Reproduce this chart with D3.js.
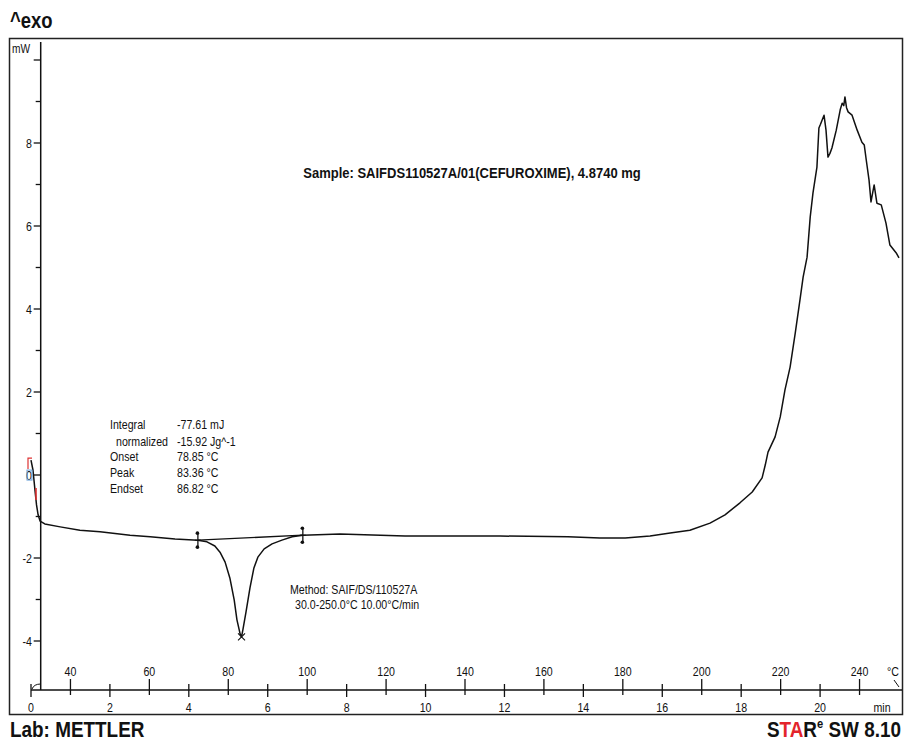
<!DOCTYPE html>
<html>
<head>
<meta charset="utf-8">
<script src="https://cdn.jsdelivr.net/npm/d3@7"></script>
<style>
  html, body { margin: 0; padding: 0; background: #fff; }
  svg { display: block; }
</style>
</head>
<body>
<svg id="chart" width="904" height="742"></svg>
<script>
// ---------------- DATA ----------------
const tempC = [30.0, 30.5, 31.0, 31.4, 31.8, 32.3, 33.5, 37.4, 42.4, 47.5, 55.1, 60.2, 66.5, 72.3,
  74.6, 76.6, 77.9, 79.2, 80.4, 81.5, 82.2, 83.0, 83.36, 83.7, 84.5, 85.5, 86.5, 87.5, 89.1, 91.1,
  93.6, 96.2, 98.9, 108.3, 124.8, 148.9, 166.1, 174.2, 180.6, 186.9, 192.0, 197.0, 202.1, 205.9,
  209.7, 212.8, 215.3, 216.1, 216.8, 218.6, 219.9, 221.1, 222.4, 223.7, 224.9, 225.7, 226.7, 227.5,
  228.2, 229.2, 229.7, 230.1, 230.5, 231.0, 231.5, 232.0, 232.5, 233.0, 234.1, 235.1, 235.6, 236.0, 236.3,
  236.7, 237.1, 238.1, 239.4, 240.6, 241.2, 241.7, 242.4, 242.9, 243.7, 244.4, 245.5, 246.7, 247.7, 249.3, 250.0];
const heatFlow = [0.36, 0.12, -0.36, -0.72, -0.96, -1.11, -1.18, -1.25, -1.33, -1.37, -1.45, -1.49, -1.54, -1.57,
  -1.61, -1.71, -1.86, -2.10, -2.48, -3.01, -3.49, -3.83, -3.90, -3.73, -3.30, -2.72, -2.24, -1.98, -1.78, -1.66,
  -1.57, -1.49, -1.45, -1.42, -1.47, -1.47, -1.49, -1.52, -1.52, -1.47, -1.40, -1.33, -1.16, -0.96,
  -0.67, -0.41, -0.07, 0.24, 0.55, 0.92, 1.40, 2.05, 2.60, 3.42, 4.22, 4.77, 5.25, 6.22,
  6.80, 7.42, 8.36, 8.45, 8.55, 8.67, 8.31, 7.66, 7.75, 7.88, 8.31, 8.80, 8.96, 8.90, 9.11,
  8.85, 8.75, 8.67, 8.31, 8.02, 7.95, 7.59, 7.11, 6.58, 6.99, 6.55, 6.51, 6.07, 5.54, 5.35, 5.23];

// integration limits (baseline) and peak
const baseLimitsT = [72.3, 98.9];
const baseLimitsMW = [-1.57, -1.45];
const peakT = [83.36];
const peakMW = [-3.90];

const tempTicks = [40, 60, 80, 100, 120, 140, 160, 180, 200, 220, 240];
const minTicks = [0, 2, 4, 6, 8, 10, 12, 14, 16, 18, 20];
const mwMajor = [-4, -2, 0, 2, 4, 6, 8, 10];
const mwLabels = ["-4", "-2", "0", "2", "4", "6", "8", ""];
const mwMinor = [-3, -1, 1, 3, 5, 7, 9];

const resultNames = ["Integral", "normalized", "Onset", "Peak", "Endset"];
const resultValues = ["-77.61 mJ", "-15.92 Jg^-1", "78.85 °C", "83.36 °C", "86.82 °C"];
const sampleText = "Sample: SAIFDS110527A/01(CEFUROXIME), 4.8740 mg";
const methodLines = ["Method: SAIF/DS/110527A", "30.0-250.0°C 10.00°C/min"];

// ---------------- SETUP ----------------
const FONT = "'Liberation Sans', Arial, Helvetica, sans-serif";
const INK = "#111";
const svg = d3.select("#chart");

const xT = d3.scaleLinear().domain([30, 250]).range([31, 899]);
const xMin = d3.scaleLinear().domain([0, 22]).range([31, 899]);
const y = d3.scaleLinear().domain([-5.2, 10.5]).range([690.8, 39.25]);

const axisY = 690;
const yAxisX = 40.7;

function label(g, x, yy, s, o = {}) {
  return g.append("text")
    .attr("transform", `translate(${x},${yy}) scale(${o.sx || 0.85},1)`)
    .attr("font-family", FONT)
    .attr("font-size", o.size || 12.5)
    .attr("font-weight", o.bold ? "bold" : "normal")
    .attr("text-anchor", o.anchor || "start")
    .attr("fill", o.fill || INK)
    .text(s);
}

// frame
svg.append("rect").attr("x", 9.5).attr("y", 38.5).attr("width", 893).attr("height", 676)
  .attr("fill", "none").attr("stroke", "#222").attr("stroke-width", 1.5);

// titles
label(svg, 10, 28, "^exo", { size: 22, bold: true, sx: 0.84 });
label(svg, 10, 737, "Lab: METTLER", { size: 22, bold: true, sx: 0.86 });
const star = svg.append("text")
  .attr("transform", `translate(901,737) scale(0.86,1)`)
  .attr("font-family", FONT).attr("font-size", 22).attr("font-weight", "bold")
  .attr("text-anchor", "end").attr("fill", INK);
star.append("tspan").text("S");
star.append("tspan").attr("fill", "#e3242b").text("TA");
star.append("tspan").text("R");
star.append("tspan").attr("font-size", 13).attr("dy", -9).text("e");
star.append("tspan").attr("dy", 9).text(" SW 8.10");

// ---------------- Y AXIS ----------------
const gy = svg.append("g");
gy.append("line").attr("x1", yAxisX).attr("x2", yAxisX).attr("y1", 42).attr("y2", axisY)
  .attr("stroke", INK).attr("stroke-width", 1.5);
gy.selectAll("line.maj").data(mwMajor).join("line").attr("class", "maj")
  .attr("x1", yAxisX - 7).attr("x2", yAxisX).attr("y1", d => y(d)).attr("y2", d => y(d))
  .attr("stroke", INK).attr("stroke-width", 1.3);
gy.selectAll("line.min").data(mwMinor).join("line").attr("class", "min")
  .attr("x1", yAxisX - 5).attr("x2", yAxisX).attr("y1", d => y(d)).attr("y2", d => y(d))
  .attr("stroke", INK).attr("stroke-width", 1.3);
mwMajor.forEach((v, i) => label(gy, 32, y(v) + 4.5, mwLabels[i], { anchor: "end" }));
label(gy, 12, 53, "mW", { size: 12 });
gy.append("path").attr("d", `M${xMin(0) + 1},${axisY - 1} Q${xMin(0) + 3},${axisY - 6} ${yAxisX},${axisY - 6}`)
  .attr("fill", "none").attr("stroke", INK).attr("stroke-width", 1);

// ---------------- X AXES ----------------
const gx = svg.append("g");
gx.append("line").attr("x1", xMin(0)).attr("x2", 902).attr("y1", axisY).attr("y2", axisY)
  .attr("stroke", INK).attr("stroke-width", 1.5);
gx.selectAll("line.tt").data(tempTicks).join("line").attr("class", "tt")
  .attr("x1", d => xT(d)).attr("x2", d => xT(d)).attr("y1", axisY - 11).attr("y2", axisY + 5)
  .attr("stroke", INK).attr("stroke-width", 1.3);
gx.selectAll("line.mt").data(minTicks).join("line").attr("class", "mt")
  .attr("x1", d => xMin(d)).attr("x2", d => xMin(d)).attr("y1", axisY - 6).attr("y2", axisY + 7)
  .attr("stroke", INK).attr("stroke-width", 1.3);
tempTicks.forEach(v => label(gx, xT(v), 676, String(v), { anchor: "middle" }));
minTicks.forEach(v => label(gx, xMin(v), 712, String(v), { anchor: "middle" }));
label(gx, 893, 676, "°C", { anchor: "middle" });
label(gx, 882, 712, "min", { anchor: "middle" });
gx.append("line").attr("x1", xT(250) - 5).attr("x2", xT(250)).attr("y1", axisY - 10).attr("y2", axisY - 3)
  .attr("stroke", INK).attr("stroke-width", 1);

// ---------------- CURVE ----------------
const pts = tempC.map((t, i) => [t, heatFlow[i]]);
const line = d3.line().x(d => xT(d[0])).y(d => y(d[1]));
svg.append("path").datum(pts).attr("d", line)
  .attr("fill", "none").attr("stroke", "#111").attr("stroke-width", 1.5).attr("stroke-linejoin", "round");

// integration baseline
svg.append("line")
  .attr("x1", xT(baseLimitsT[0])).attr("y1", y(baseLimitsMW[0]))
  .attr("x2", xT(baseLimitsT[1])).attr("y2", y(baseLimitsMW[1]))
  .attr("stroke", "#111").attr("stroke-width", 1.3);

// limit markers
baseLimitsT.forEach((t, i) => {
  const cx = xT(t), cy = y(baseLimitsMW[i]);
  const g = svg.append("g");
  g.append("line").attr("x1", cx).attr("x2", cx).attr("y1", cy - 8).attr("y2", cy + 8)
    .attr("stroke", "#111").attr("stroke-width", 1.3);
  g.append("circle").attr("cx", cx - 0.5).attr("cy", cy - 7).attr("r", 1.8).attr("fill", "#111");
  g.append("circle").attr("cx", cx - 0.5).attr("cy", cy + 7).attr("r", 1.8).attr("fill", "#111");
  g.append("line").attr("x1", cx - 3).attr("x2", cx + 3).attr("y1", cy).attr("y2", cy)
    .attr("stroke", "#111").attr("stroke-width", 1);
});

// peak marker
peakT.forEach((t, i) => {
  const cx = xT(t), cy = y(peakMW[i]);
  svg.append("path").attr("d", `M${cx - 3.5},${cy - 3.5}L${cx + 3.5},${cy + 3.5}M${cx + 3.5},${cy - 3.5}L${cx - 3.5},${cy + 3.5}`)
    .attr("stroke", "#111").attr("stroke-width", 1.1);
});

// start marks (red / blue)
{
  const sx = xT(tempC[0]), sy = y(heatFlow[0]);
  svg.append("path").attr("d", `M${sx + 1},${sy - 2}H${sx - 3}V${sy + 9}`)
    .attr("fill", "none").attr("stroke", "#d33").attr("stroke-width", 1.2);
  svg.append("rect").attr("x", sx - 4).attr("y", sy + 10).attr("width", 5).attr("height", 10)
    .attr("fill", "none").attr("stroke", "#6aa0d8").attr("stroke-width", 1);
  svg.append("line").attr("x1", sx + 5).attr("x2", sx + 5).attr("y1", sy + 28).attr("y2", sy + 40)
    .attr("stroke", "#d33").attr("stroke-width", 1.6);
}

// ---------------- ANNOTATIONS ----------------
const resY = [429, 446, 461, 477, 493];
resultNames.forEach((n, i) => {
  label(svg, i === 1 ? 116 : 110, resY[i], n);
  label(svg, 177, resY[i], resultValues[i]);
});
label(svg, 472, 178, sampleText, { size: 15.5, bold: true, sx: 0.84, anchor: "middle" });
label(svg, 290, 594, methodLines[0]);
label(svg, 295, 609, methodLines[1]);
</script>
</body>
</html>
